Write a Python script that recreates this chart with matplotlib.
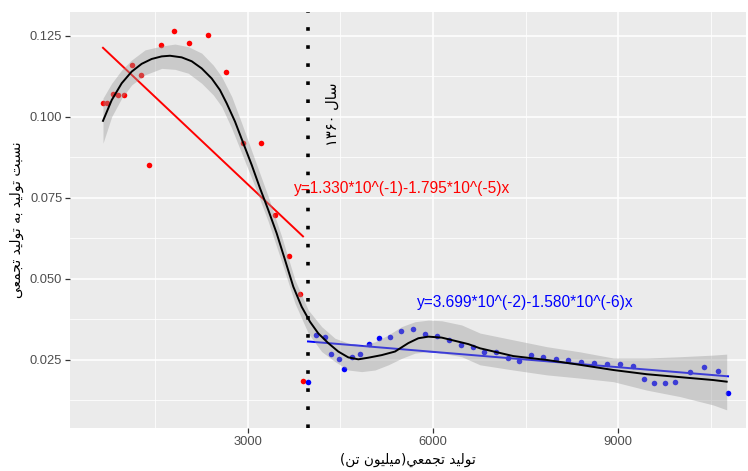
import numpy as np
import matplotlib
matplotlib.use("Agg")
import matplotlib.pyplot as plt
from matplotlib.ticker import MultipleLocator, FormatStrFormatter

plt.rcParams["font.family"] = ["Liberation Sans", "DejaVu Sans"]

# ── data ──
red_x = [649, 715, 811, 892, 989, 1119, 1265, 1395, 1589, 1800, 2043, 2351,
         2643, 2919, 3211, 3438, 3665, 3843, 3892]
red_y = [0.1043, 0.1043, 0.1071, 0.1068, 0.1068, 0.1160, 0.1130, 0.0852,
         0.1222, 0.1265, 0.1228, 0.1253, 0.1139, 0.0920, 0.0920, 0.0697,
         0.0571, 0.0454, 0.0185]

blue_x = [3973, 4103, 4249, 4346, 4476, 4557, 4686, 4816, 4962, 5124, 5303,
          5481, 5676, 5870, 6065, 6259, 6454, 6648, 6827, 7021, 7216, 7394,
          7589, 7784, 7994, 8189, 8400, 8611, 8821, 9032, 9243, 9422, 9583,
          9762, 9924, 10168, 10395, 10622, 10784]
blue_y = [0.0182, 0.0327, 0.0321, 0.0268, 0.0253, 0.0222, 0.0259, 0.0268,
          0.0299, 0.0318, 0.0321, 0.0340, 0.0346, 0.0330, 0.0324, 0.0312,
          0.0297, 0.0290, 0.0275, 0.0275, 0.0256, 0.0247, 0.0265, 0.0259,
          0.0253, 0.0250, 0.0244, 0.0241, 0.0238, 0.0238, 0.0232, 0.0191,
          0.0179, 0.0179, 0.0182, 0.0213, 0.0228, 0.0216, 0.0148]

# linear fits (coefficients as printed on the chart)
red_a, red_b = 1.330e-1, -1.795e-5
blue_a, blue_b = 3.699e-2, -1.580e-6

# loess smooth over all points
smooth_x = [649, 790, 952, 1114, 1276, 1438, 1601, 1735, 1925, 2087, 2249,
            2411, 2546, 2655, 2789, 2924, 3060, 3195, 3329, 3465, 3600, 3735,
            3871, 4005, 4140, 4302, 4464, 4626, 4789, 4951, 5168, 5384, 5599,
            5762, 5924, 6141, 6357, 6572, 6762, 7302, 7844, 8384, 8924, 9465,
            10005, 10545, 10762]
smooth_y = [0.0988, 0.1052, 0.1104, 0.1140, 0.1164, 0.1179, 0.1187, 0.1189,
            0.1184, 0.1172, 0.1150, 0.1119, 0.1083, 0.1042, 0.0986, 0.0919,
            0.0852, 0.0780, 0.0713, 0.0641, 0.0559, 0.0476, 0.0414, 0.0368,
            0.0332, 0.0302, 0.0276, 0.0258, 0.0252, 0.0257, 0.0265, 0.0276,
            0.0302, 0.0317, 0.0322, 0.0319, 0.0309, 0.0299, 0.0286, 0.0262,
            0.0250, 0.0235, 0.0219, 0.0206, 0.0197, 0.0188, 0.0183]

# its confidence band
band_x = [649, 790, 952, 1114, 1330, 1601, 1816, 2032, 2249, 2437, 2574,
          2736, 2898, 3114, 3329, 3546, 3762, 3978, 4194, 4410, 4626, 4843,
          5059, 5275, 5492, 5708, 5924, 6141, 6465, 6762, 7302, 7844, 8384,
          8924, 9465, 10005, 10545, 10762]
band_hi = [0.1058, 0.1104, 0.1145, 0.1176, 0.1207, 0.1219, 0.1225, 0.1217,
           0.1197, 0.1160, 0.1124, 0.1063, 0.0981, 0.0867, 0.0754, 0.0631,
           0.0497, 0.0404, 0.0353, 0.0317, 0.0302, 0.0296, 0.0306, 0.0327,
           0.0353, 0.0368, 0.0373, 0.0371, 0.0358, 0.0333, 0.0312, 0.0291,
           0.0275, 0.0256, 0.0256, 0.0260, 0.0265, 0.0268]
band_lo = [0.0919, 0.1001, 0.1058, 0.1099, 0.1130, 0.1150, 0.1147, 0.1135,
           0.1104, 0.1068, 0.1032, 0.0965, 0.0888, 0.0785, 0.0677, 0.0553,
           0.0425, 0.0332, 0.0276, 0.0245, 0.0219, 0.0214, 0.0219, 0.0235,
           0.0255, 0.0271, 0.0276, 0.0271, 0.0260, 0.0235, 0.0219, 0.0204,
           0.0194, 0.0183, 0.0157, 0.0137, 0.0111, 0.0096]

vline_x = 3973


def rtl(*words):
    # words already in presentation forms, logical order -> visual order
    return " ".join(w[::-1] for w in reversed(words))


NESBAT = "\uFEE7\uFEB4\uFE92\uFE96"
TOLID = "\uFE97\uFEEE\uFEDF\uFBFF\uFEAA"
BE = "\uFE91\uFEEA"
TAJAMOEI = "\uFE97\uFEA0\uFEE4\uFECC\uFBFD"
TAJAMOEI_Y = "\uFE97\uFEA0\uFEE4\uFECC\uFEF2"
MILIYON = "\uFEE3\uFBFF\uFEE0\uFBFF\uFEEE\uFEE5"
TON = "\uFE97\uFEE6"
SAL = "\uFEB3\uFE8E\uFEDD"

ylabel = rtl(NESBAT, TOLID, BE, TOLID, TAJAMOEI)
xlabel = "(" + rtl(MILIYON, TON) + ")" + rtl(TOLID, TAJAMOEI_Y)
year_label = "\u06F1\u06F3\u06F6\u06F0 " + SAL[::-1]

BG = "#EBEBEB"

fig = plt.figure(figsize=(7.48, 4.71), dpi=100)
ax = fig.add_axes([70 / 748, 1 - 428 / 471, 676 / 748, 416 / 471])
ax.set_facecolor(BG)
for s in ax.spines.values():
    s.set_visible(False)

ax.set_xlim(114, 11075)
ax.set_ylim(0.0040, 0.1324)
ax.xaxis.set_major_locator(MultipleLocator(3000))
ax.xaxis.set_minor_locator(MultipleLocator(1500))
ax.yaxis.set_major_locator(MultipleLocator(0.025))
ax.yaxis.set_minor_locator(MultipleLocator(0.0125))
ax.grid(True, which="major", color="white", linewidth=1.1)
ax.grid(True, which="minor", color="white", linewidth=0.55)
ax.set_axisbelow(True)
ax.tick_params(which="major", length=3.5, width=0.9, color="#333333",
               labelsize=9.3, labelcolor="#4D4D4D", pad=2)
ax.tick_params(which="minor", length=0)
ax.yaxis.set_major_formatter(FormatStrFormatter("%.3f"))
ax.xaxis.set_major_formatter(FormatStrFormatter("%d"))

ax.scatter(red_x, red_y, s=16, color="#FF0000", linewidths=0, zorder=2)
ax.scatter(blue_x, blue_y, s=16, color="#0000FF", linewidths=0, zorder=2)

rx = np.array([min(red_x), max(red_x)])
bx = np.array([min(blue_x), max(blue_x)])
ax.plot(rx, red_a + red_b * rx, color="#FF0000", lw=1.4, zorder=3)
ax.plot(bx, blue_a + blue_b * bx, color="#0000FF", lw=1.4, zorder=3)

ax.fill_between(band_x, band_lo, band_hi, color="#999999", alpha=0.4,
                linewidth=0, zorder=4)
ax.plot(smooth_x, smooth_y, color="black", lw=1.4, zorder=5,
        solid_joinstyle="round")

ax.axvline(vline_x, color="black", lw=2.6, linestyle=(0, (1, 4)), zorder=6)

ax.text(5497, 0.0778, "y=1.330*10^(-1)-1.795*10^(-5)x", color="#FF0000",
        fontsize=11.2, ha="center", va="center", zorder=7)
ax.text(7492, 0.0426, "y=3.699*10^(-2)-1.580*10^(-6)x", color="#0000FF",
        fontsize=11.2, ha="center", va="center", zorder=7)
ax.text(4370, 0.1009, year_label, rotation=90, fontsize=10.5, ha="center",
        va="center", family="DejaVu Sans", zorder=7)

ax.set_xlabel(xlabel, fontsize=9.8, family="DejaVu Sans", labelpad=4)
ax.set_ylabel(ylabel, fontsize=10, family="DejaVu Sans", labelpad=4)

fig.savefig("out.png", dpi=100)
